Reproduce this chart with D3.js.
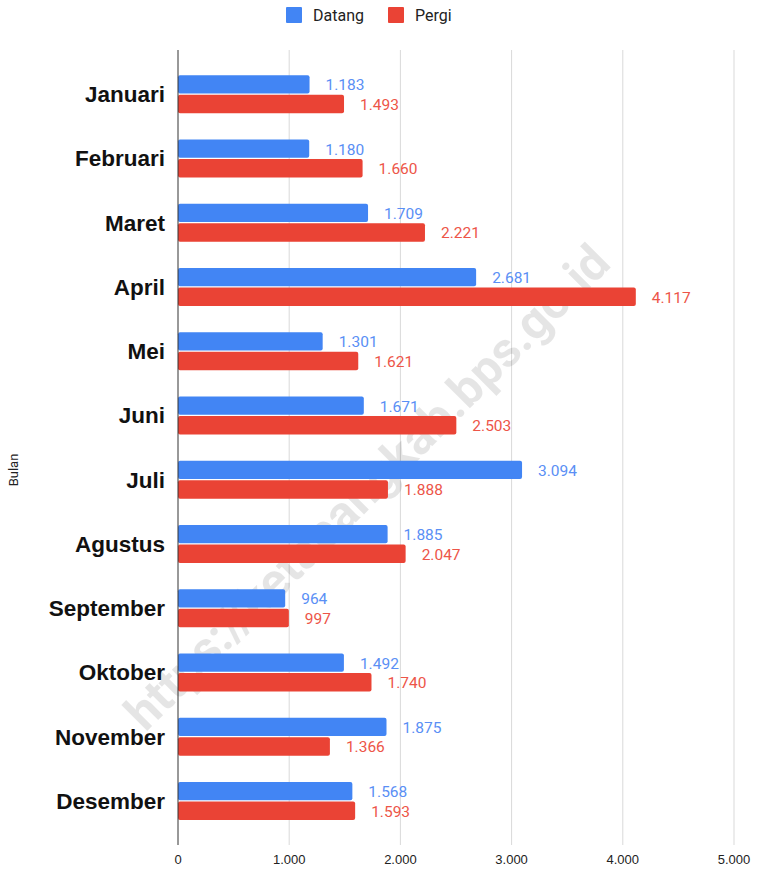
<!DOCTYPE html>
<head>
  <meta charset="utf-8">
  <script src="https://d3js.org/d3.v7.min.js"></script>
  <style>
    body { margin:0; background:#fff; }
    svg { display:block; font-family: Roboto, Arial, sans-serif; }
  </style>
</head>
<body>
<div id="chart"></div>
<script>

  var months = ["Januari","Februari","Maret","April","Mei","Juni","Juli","Agustus","September","Oktober","November","Desember"];
  var datang = [1183,1180,1709,2681,1301,1671,3094,1885,964,1492,1875,1568];
  var pergi  = [1493,1660,2221,4117,1621,2503,1888,2047,997,1740,1366,1593];
  var ticks  = [0,1000,2000,3000,4000,5000];
  var seriesNames = ["Datang","Pergi"];
  var colors = ["#4285f4","#ea4335"];
  var textColors = ["#5a8ff5","#ed5548"];

  var width = 759, height = 870;
  var margin = {top: 50, left: 178, right: 25, bottom: 25};

  var svg = d3.select("#chart").append("svg")
    .attr("width", width).attr("height", height);

  var x = d3.scaleLinear().domain([0,5000]).range([margin.left, 734]);
  var y = d3.scaleBand().domain(months).range([62, 833]);
  var sub = d3.scaleBand().domain(seriesNames).range([0, 38]).paddingInner(0.06);

  var fmt = d3.formatLocale({decimal:",", thousands:".", grouping:[3], currency:["",""]}).format(",d");

  // gridlines
  svg.append("g").selectAll("line")
    .data(ticks.slice(1))
    .enter().append("line")
      .attr("x1", function(d){ return x(d); })
      .attr("x2", function(d){ return x(d); })
      .attr("y1", margin.top).attr("y2", 845)
      .style("stroke", "#d9d9d9").style("stroke-width", 1);

  // tick labels
  svg.append("g").selectAll("text")
    .data(ticks)
    .enter().append("text")
      .attr("x", function(d){ return x(d); })
      .attr("y", 864)
      .attr("text-anchor", "middle")
      .style("font-family", "'Liberation Sans', Arial, sans-serif")
      .style("font-size", "13px").style("fill", "#222")
      .text(function(d){ return fmt(d); });

  // watermark
  svg.append("text")
    .attr("transform", "translate(370,490) rotate(-45)")
    .attr("text-anchor", "middle")
    .attr("dominant-baseline", "middle")
    .style("font-size", "49px").style("font-weight", "bold")
    .style("fill", "rgba(0,0,0,0.1)")
    .text("https://ketapangkab.bps.go.id");

  var data = months.map(function(m, i){
    return {month: m, values: [{k:"Datang", v: datang[i]}, {k:"Pergi", v: pergi[i]}]};
  });

  var groups = svg.append("g").selectAll("g")
    .data(data).enter().append("g")
      .attr("transform", function(d){ return "translate(0," + (y(d.month) + y.bandwidth()/2 - 19) + ")"; });

  groups.selectAll("rect")
    .data(function(d){ return d.values; })
    .enter().append("rect")
      .attr("x", x(0))
      .attr("y", function(d){ return sub(d.k); })
      .attr("width", function(d){ return x(d.v) - x(0); })
      .attr("height", sub.bandwidth())
      .attr("rx", 2)
      .style("fill", function(d, i){ return colors[i]; });

  groups.selectAll("text.val")
    .data(function(d){ return d.values; })
    .enter().append("text")
      .attr("class", "val")
      .attr("x", function(d){ return x(d.v) + 16; })
      .attr("y", function(d){ return sub(d.k) + sub.bandwidth()/2 + 6; })
      .style("font-size", "15.5px")
      .style("fill", function(d, i){ return textColors[i]; })
      .text(function(d){ return fmt(d.v); });

  // zero axis line
  svg.append("line")
    .attr("x1", x(0)).attr("x2", x(0))
    .attr("y1", margin.top).attr("y2", 845)
    .style("stroke", "#333").style("stroke-width", 1);

  // category labels
  svg.append("g").selectAll("text")
    .data(months).enter().append("text")
      .attr("x", 165)
      .attr("y", function(d){ return y(d) + y.bandwidth()/2 + 8; })
      .attr("text-anchor", "end")
      .style("font-family", "'Liberation Sans', Arial, sans-serif")
      .style("font-size", "22.5px").style("font-weight", "bold").style("fill", "#111")
      .text(function(d){ return d; });

  // axis title
  svg.append("text")
    .attr("transform", "translate(18,470) rotate(-90)")
    .attr("text-anchor", "middle")
    .style("font-size", "13px").style("fill", "#222")
    .text("Bulan");

  // legend
  var lx = [286, 388];
  var leg = svg.append("g").selectAll("g")
    .data(seriesNames).enter().append("g")
      .attr("transform", function(d, i){ return "translate(" + lx[i] + ",7)"; });
  leg.append("rect").attr("width", 16).attr("height", 16).attr("rx", 1)
    .style("fill", function(d, i){ return colors[i]; });
  leg.append("text").attr("x", 27).attr("y", 14)
    .style("font-size", "16px").style("fill", "#222")
    .text(function(d){ return d; });

</script>
</body>
